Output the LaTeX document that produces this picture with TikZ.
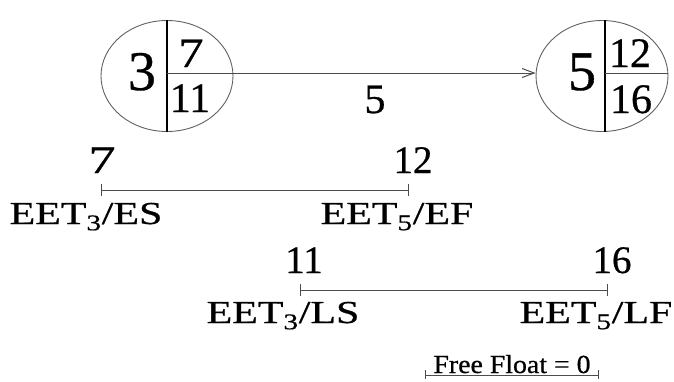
\documentclass[tikz,border=0pt]{standalone}
\usepackage{fontspec}
\setmainfont{Liberation Serif}[FakeBold=0.6]
\usetikzlibrary{shapes.geometric,arrows.meta}
\begin{document}
\begin{tikzpicture}[x=1pt,y=-1pt,
  evt/.style={ellipse,draw=gray!75!black,line width=0.9pt,minimum width=132pt,minimum height=111pt,inner sep=0pt},
  bar/.style={line width=2pt,black},
  thinline/.style={draw=gray!60!black,line width=1pt},
  txt/.style={anchor=base,inner sep=0pt,outer sep=0pt},
  bign/.style={txt,font=\fontsize{56}{56}\selectfont},
  midn/.style={txt,font=\fontsize{42}{42}\selectfont},
  numl/.style={txt,font=\fontsize{39}{39}\selectfont},
  lab/.style={txt,font=\fontsize{32}{32}\selectfont,xscale=1.31},
  ff/.style={txt,font=\fontsize{26}{26}\selectfont,xscale=1.07}]
\useasboundingbox (0,0) rectangle (674,381);
% events
\node[evt] (L) at (167,76) {};
\node[evt] (R) at (602,76) {};
\draw[bar] (L.north) -- (L.south);
\draw[bar] ([xshift=3pt]R.north) -- ([xshift=3pt]R.south);
\draw[thinline,-{Straight Barb[length=12pt,width=9pt]}] ([yshift=3pt]L.center) -- ([yshift=3pt]R.west);
\draw[thinline] ([xshift=3pt,yshift=3pt]R.center) -- ([yshift=3pt]R.east);
% event numbers
\node[bign] (n3) at (142,90) {3};
\node[midn,xscale=1.2] (e7) at (191,67) {7};
\node[midn] (l11) at (190,112) {11};
\node[bign] (n5) at (582,90) {5};
\node[midn] (e12) at (630,67) {12};
\node[midn] (l16) at (631,113) {16};
\node[midn] (dur) at (375,113) {5};
% early line
\coordinate (a1) at (101,190);
\coordinate (a2) at (408,190);
\draw[thinline] (a1) -- (a2);
\draw[thinline] ([yshift=6pt]a1) -- ([yshift=-6pt]a1);
\draw[thinline] ([yshift=6pt]a2) -- ([yshift=-6pt]a2);
\node[numl,xscale=1.4] (t7) at (102,173) {7};
\node[numl] (t12) at (413,173) {12};
\node[lab] (es) at (86,224) {EET\textsubscript{3}/ES};
\node[lab] (ef) at (397,224) {EET\textsubscript{5}/EF};
% late line
\coordinate (b1) at (300,290);
\coordinate (b2) at (607,290);
\draw[thinline] (b1) -- (b2);
\draw[thinline] ([yshift=6pt]b1) -- ([yshift=-6pt]b1);
\draw[thinline] ([yshift=6pt]b2) -- ([yshift=-6pt]b2);
\node[numl] (t11) at (304,273) {11};
\node[numl] (t16) at (612,273) {16};
\node[lab] (ls) at (283,323) {EET\textsubscript{3}/LS};
\node[lab] (lf) at (596,323) {EET\textsubscript{5}/LF};
% free float
\coordinate (c1) at (425,375);
\coordinate (c2) at (598,375);
\draw[thinline] (c1) -- (c2);
\draw[thinline] ([yshift=5pt]c1) -- ([yshift=-4pt]c1);
\draw[thinline] ([yshift=5pt]c2) -- ([yshift=-4pt]c2);
\node[ff] (fft) at (512,373) {Free Float = 0};
\end{tikzpicture}
\end{document}
